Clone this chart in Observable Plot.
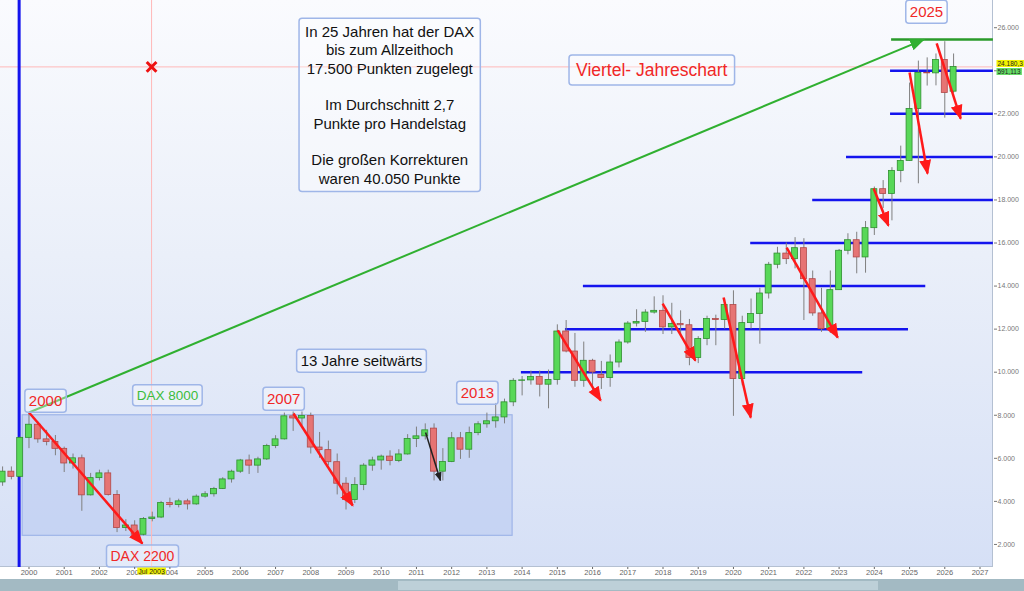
<!DOCTYPE html>
<html><head><meta charset="utf-8">
<script src="https://cdn.jsdelivr.net/npm/d3@7"></script>
<script src="https://cdn.jsdelivr.net/npm/@observablehq/plot@0.6"></script>
<style>
html,body{margin:0;padding:0;background:#fff;}
#wrap{position:relative;width:1024px;height:591px;overflow:hidden;background:#fff;font-family:"Liberation Sans",Arial,sans-serif;}
#bg{position:absolute;left:0;top:0;width:992px;height:566px;background:linear-gradient(to bottom,#fafbfe 0%,#eaeff9 45%,#d6e0f6 100%);border-right:1px solid #b4c0d2;border-bottom:1px solid #b4c0d2;}
#bar{position:absolute;left:0;top:579px;width:1024px;height:12px;background:#a3bac3;}
#thumb{position:absolute;left:398px;top:581px;width:480px;height:9px;background:#bdd0d8;}
#chart{position:absolute;left:0;top:0;}
</style></head><body>
<div id="wrap"><div id="bg"></div><div id="bar"></div><div id="thumb"></div><div id="chart"></div></div>
<script>
// ---- DAX quarterly candles, 1999 Q2 .. 2026 Q2 ----
const firstQuarter = 1999.25; // 1999 Q2
const openVals = [
  4880, 5380, 5140,            // 1999 Q2-Q4
  6950, 7560, 6880, 6760,      // 2000
  6440, 5760, 6000, 4280,      // 2001
  5080, 5300, 4300, 2760,      // 2002
  2880, 2450, 3180, 3250,      // 2003
  3920, 3830, 4000, 3860,      // 2004
  4220, 4330, 4580, 5020,      // 2005
  5380, 5900, 5660, 5950,      // 2006
  6570, 6880, 7950, 7850,      // 2007
  7970, 6500, 6380, 5820,      // 2008
  4820, 4060, 4760, 5660,      // 2009
  5900, 6080, 5880, 6180,      // 2010
  6900, 7020, 7380, 5380,      // 2011
  5830, 6930, 6400, 7170,      // 2012
  7580, 7720, 7900, 8600,      // 2013
  9600, 9620, 9780, 9420,      // 2014
  9640, 11890, 10960, 9600,    // 2015
  10530, 9870, 9730, 10450,    // 2016
  11380, 12260, 12330, 12770,  // 2017
  12850, 12080, 12240, 12180,  // 2018
  10660, 11540, 12470, 12420,  // 2019
  13117, 9680, 12280, 12700,   // 2020
  13655, 14990, 15510, 15250,  // 2021
  15760, 14320, 12730, 12000,  // 2022
  13810, 15640, 16130, 15330,  // 2023
  16690, 18500, 18280, 19350,  // 2024
  19813, 22226, 23900, 23880,  // 2025
  24500, 23030                 // 2026 Q1-Q2
];
const highVals = [
  5600, 5600, 7000,
  8100, 7680, 7300, 7060,
  6520, 6200, 6150, 5300,
  5450, 5450, 4500, 3150,
  3100, 3250, 3500, 4000,
  4150, 4100, 4100, 4300,
  4450, 4650, 5100, 5450,
  5950, 6150, 6050, 6650,
  7050, 8100, 8150, 8150,
  8100, 7200, 6800, 6200,
  5100, 5100, 5750, 6050,
  6150, 6350, 6400, 7100,
  7450, 7600, 7600, 6450,
  7200, 7200, 7450, 7700,
  8100, 8550, 8750, 9700,
  9800, 10050, 10050, 10100,
  12200, 12400, 11800, 11400,
  10600, 10500, 10800, 11500,
  12350, 12900, 12900, 13500,
  13550, 13200, 12850, 12450,
  11650, 12600, 12650, 13400,
  13780, 12600, 13400, 13900,
  15100, 15800, 16000, 16250,
  16200, 14700, 13900, 14700,
  15700, 16430, 16500, 17000,
  18600, 18900, 19500, 20500,
  23430, 24450, 24600, 24780,
  25350, 24780
];
const lowVals = [
  4700, 5000, 5100,
  6450, 6700, 6580, 6120,
  5340, 5500, 3540, 4250,
  4950, 4250, 2550, 2600,
  2200, 2400, 3050, 3200,
  3700, 3700, 3600, 3820,
  4150, 4200, 4550, 4850,
  5300, 5250, 5300, 5900,
  6450, 6850, 7250, 7500,
  6200, 6000, 5650, 4300,
  3600, 3900, 4500, 5400,
  5450, 5650, 5800, 6150,
  6500, 6850, 4950, 4950,
  5800, 5950, 6000, 7050,
  7400, 7400, 7600, 8400,
  8900, 9400, 8850, 8300,
  9400, 10900, 9300, 9300,
  9000, 9200, 9300, 10200,
  11300, 12100, 11850, 12700,
  11750, 11750, 11700, 10300,
  10400, 11230, 11230, 12000,
  7950, 9370, 12000, 11300,
  13400, 14800, 15000, 14800,
  12400, 12600, 11850, 11800,
  13800, 15450, 14570, 14600,
  16350, 17600, 17030, 18800,
  19800, 18750, 23290, 23300,
  21800, 22950
];
const closeVals = [
  5380, 5140, 6950,
  7560, 6880, 6760, 6440,
  5760, 6000, 4280, 5080,
  5300, 4300, 2760, 2880,
  2450, 3180, 3250, 3920,
  3830, 4000, 3860, 4220,
  4330, 4580, 5020, 5380,
  5900, 5660, 5950, 6570,
  6880, 7950, 7850, 7970,
  6500, 6380, 5820, 4820,
  4060, 4760, 5660, 5900,
  6080, 5880, 6180, 6900,
  7020, 7300, 5380, 5830,
  6930, 6400, 7170, 7580,
  7720, 7900, 8600, 9600,
  9620, 9780, 9420, 9640,
  11890, 10960, 9600, 10530,
  9990, 9730, 10450, 11380,
  12260, 12330, 12770, 12850,
  12080, 12240, 12180, 10660,
  11540, 12470, 12420, 13117,
  9680, 12280, 12700, 13655,
  14990, 15510, 15250, 15760,
  14320, 12730, 12000, 13810,
  15640, 16130, 15330, 16690,
  18500, 18280, 19350, 19813,
  22226, 23900, 23880, 24500,
  22970, 24180
];

// ---- axes ----
const yearTicks = d3.range(2000, 2028);
const priceTicks = d3.range(2000, 26001, 2000);

// ---- support / resistance levels ----
const levelValues = [10000, 12000, 14000, 16000, 18000, 20000, 22000, 24000];
const levelFrom   = [2013.98, 2015.23, 2015.74, 2020.49, 2022.25, 2023.21, 2024.46, 2024.46];
const levelTo     = [2023.67, 2024.97, 2025.46, 2027.38, 2027.38, 2027.38, 2027.38, 2027.38];
const athLevel = [{v: 25450, from: 2024.49, to: 2027.38}];

// ---- arrows (date, points) ----
const redArrows = [
  [2000.00, 8130, 2003.22, 2040],
  [2007.51, 8080, 2009.19, 3810],
  [2015.01, 11940, 2016.23, 8690],
  [2017.99, 13190, 2018.92, 10540],
  [2019.72, 13470, 2020.49, 7900],
  [2021.51, 15790, 2022.96, 11610],
  [2023.98, 18530, 2024.40, 16810],
  [2025.00, 23920, 2025.51, 19230],
  [2025.77, 25270, 2026.45, 21780]
];
const blackArrows = [[2011.26, 7200, 2011.68, 4970]];
const greenArrows = [[2000.00, 8130, 2025.40, 25450]];

// ---- sideways range box ----
const sidewaysBox = [{from: 1999.82, to: 2013.73, lo: 2400, hi: 8000}];

// ---- crosshair ----
const crossDate = 2003.48;
const crossPrice = 24180;

// ---- annotations ----
const mainNote = [{x: 2010.24, y: 22434, text: "In 25 Jahren hat der DAX\nbis zum Allzeithoch\n17.500 Punkten zugelegt\n\nIm Durchschnitt 2,7\nPunkte pro Handelstag\n\nDie großen Korrekturen\nwaren 40.050 Punkte"}];
const yearLabels = [
  {x: 2000.47, y: 8639, text: "2000"},
  {x: 2007.23, y: 8732, text: "2007"},
  {x: 2012.73, y: 9011, text: "2013"},
  {x: 2025.48, y: 26707, text: "2025"}
];
const dax2200 = [{x: 2003.22, y: 1440, text: "DAX 2200"}];
const dax8000 = [{x: 2003.93, y: 8918, text: "DAX 8000"}];
const chartTitle = [{x: 2017.68, y: 24013, text: "Viertel- Jahreschart"}];
const sidewaysLabel = [{x: 2009.44, y: 10497, text: "13 Jahre seitwärts"}];

// build tables
const candles = openVals.map((o, i) => ({
  t: firstQuarter + i / 4, open: o, high: highVals[i], low: lowVals[i], close: closeVals[i]
}));
const levels = levelValues.map((v, i) => ({v, from: levelFrom[i], to: levelTo[i]}));
const toLinks = arr => arr.map(([x1, y1, x2, y2]) => ({x1, y1, x2, y2}));
const halfW = 0.085;

const chart = Plot.plot({
  width: 1024, height: 591,
  marginTop: 0, marginLeft: 0, marginRight: 31, marginBottom: 24,
  style: {background: "transparent", fontFamily: "'Liberation Sans', Arial, sans-serif"},
  x: {domain: [1999.191, 2027.383]},
  y: {domain: [929, 27264]},
  marks: [
    Plot.rect(sidewaysBox, {x1: "from", x2: "to", y1: "lo", y2: "hi", fill: "#b3c6f0", fillOpacity: 0.5, stroke: "#9fb5e8", strokeWidth: 1.2}),
    Plot.ruleX([crossDate], {stroke: "#ffb8b8", strokeWidth: 1}),
    Plot.ruleY([crossPrice], {stroke: "#ffb8b8", strokeWidth: 1}),
    Plot.ruleX([1999.72], {stroke: "#1414ee", strokeWidth: 3}),
    Plot.ruleY(levels, {y: "v", x1: "from", x2: "to", stroke: "#1414ee", strokeWidth: 2.5}),
    Plot.ruleY(athLevel, {y: "v", x1: "from", x2: "to", stroke: "#2a9a2a", strokeWidth: 2.5}),
    Plot.link(toLinks(greenArrows), {x1: "x1", y1: "y1", x2: "x2", y2: "y2", stroke: "#30b030", strokeWidth: 2, className: "arr-green"}),
    Plot.ruleX(candles, {x: "t", y1: "low", y2: "high", stroke: "#7f7f7f", strokeWidth: 1}),
    Plot.rect(candles, {filter: d => d.close >= d.open, x1: d => d.t - halfW, x2: d => d.t + halfW, y1: "open", y2: "close", fill: "#58d858", stroke: "#2f8f2f", strokeWidth: 0.8}),
    Plot.rect(candles, {filter: d => d.close < d.open, x1: d => d.t - halfW, x2: d => d.t + halfW, y1: "open", y2: "close", fill: "#e67474", stroke: "#b04848", strokeWidth: 0.8}),
    Plot.link(toLinks(redArrows), {x1: "x1", y1: "y1", x2: "x2", y2: "y2", stroke: "#ff1a1a", strokeWidth: 2.5, className: "arr-red"}),
    Plot.link(toLinks(blackArrows), {x1: "x1", y1: "y1", x2: "x2", y2: "y2", stroke: "#222", strokeWidth: 1.5, className: "arr-black"}),
    Plot.dot([{x: crossDate, y: crossPrice}], {x: "x", y: "y", symbol: "times", r: 4.5, stroke: "#ee1111", strokeWidth: 3}),
    Plot.text(mainNote, {x: "x", y: "y", text: "text", fontSize: 15, lineHeight: 1.22, fill: "#111", className: "box-main"}),
    Plot.text(yearLabels, {x: "x", y: "y", text: "text", fontSize: 15, fill: "#f02828", className: "box-small"}),
    Plot.text(dax2200, {x: "x", y: "y", text: "text", fontSize: 14, fill: "#f02828", className: "box-small"}),
    Plot.text(dax8000, {x: "x", y: "y", text: "text", fontSize: 13.5, fill: "#3cbc3c", className: "box-small"}),
    Plot.text(chartTitle, {x: "x", y: "y", text: "text", fontSize: 17.5, fill: "#f02828", className: "box-title"}),
    Plot.text(sidewaysLabel, {x: "x", y: "y", text: "text", fontSize: 15, fill: "#111", className: "box-small"}),
    Plot.axisX({ticks: yearTicks, tickFormat: d => String(d), fontSize: 7.5, tickSize: 2, tickPadding: 0, color: "#666", label: null}),
    Plot.axisY({anchor: "right", ticks: priceTicks, tickFormat: d => d3.format(",")(d).replace(",", "."), fontSize: 7, tickSize: 3, tickPadding: 1, color: "#777", label: null}),
    Plot.text([{y: crossPrice}], {y: "y", frameAnchor: "right", dx: 4, dy: -3, textAnchor: "start", text: () => "24.180,3", fontSize: 6.5, fill: "#222", className: "tag-yellow"}),
    Plot.text([{y: crossPrice}], {y: "y", frameAnchor: "right", dx: 4, dy: 5, textAnchor: "start", text: () => "591,113", fontSize: 6.5, fill: "#222", className: "tag-green"}),
    Plot.text([{x: crossDate}], {x: "x", frameAnchor: "bottom", dy: 6, text: () => "Jul 2003", fontSize: 7, fill: "#222", className: "tag-yellow"})
  ]
});

document.getElementById("chart").appendChild(chart);
const svg = chart;
const ns = "http://www.w3.org/2000/svg";

function boxify(cls, padX, padY, fill, stroke, rx, sw) {
  svg.querySelectorAll("g." + cls + " text").forEach(t => {
    const b = t.getBBox();
    const r = document.createElementNS(ns, "rect");
    r.setAttribute("x", b.x - padX);
    r.setAttribute("y", b.y - padY);
    r.setAttribute("width", b.width + 2 * padX);
    r.setAttribute("height", b.height + 2 * padY);
    r.setAttribute("rx", rx);
    r.setAttribute("fill", fill);
    r.setAttribute("stroke", stroke);
    r.setAttribute("stroke-width", sw);
    const tr = t.getAttribute("transform");
    if (tr) r.setAttribute("transform", tr);
    t.parentNode.insertBefore(r, t);
  });
}
boxify("box-main", 6, 5, "rgba(255,255,255,0.35)", "#9fb6e8", 3, 1.5);
boxify("box-small", 4, 3, "rgba(255,255,255,0.35)", "#9fb6e8", 3, 1.5);
boxify("box-title", 7, 5, "rgba(255,255,255,0.35)", "#9fb6e8", 3, 1.5);
boxify("tag-yellow", 1, 0, "#f2f200", "none", 0, 0);
boxify("tag-green", 1, 0, "#66dd66", "none", 0, 0);

const defs = document.createElementNS(ns, "defs");
svg.insertBefore(defs, svg.firstChild);
function addMarker(id, color, size) {
  const m = document.createElementNS(ns, "marker");
  m.setAttribute("id", id);
  m.setAttribute("viewBox", "0 0 10 10");
  m.setAttribute("refX", 9);
  m.setAttribute("refY", 5);
  m.setAttribute("markerWidth", size);
  m.setAttribute("markerHeight", size);
  m.setAttribute("markerUnits", "userSpaceOnUse");
  m.setAttribute("orient", "auto");
  const p = document.createElementNS(ns, "path");
  p.setAttribute("d", "M0,1L10,5L0,9z");
  p.setAttribute("fill", color);
  m.appendChild(p);
  defs.appendChild(m);
}
addMarker("head-red", "#ff1a1a", 15);
addMarker("head-green", "#30b030", 15);
addMarker("head-black", "#222", 9);
svg.querySelectorAll("g.arr-red path").forEach(p => p.setAttribute("marker-end", "url(#head-red)"));
svg.querySelectorAll("g.arr-green path").forEach(p => p.setAttribute("marker-end", "url(#head-green)"));
svg.querySelectorAll("g.arr-black path").forEach(p => p.setAttribute("marker-end", "url(#head-black)"));
</script>
</body></html>
